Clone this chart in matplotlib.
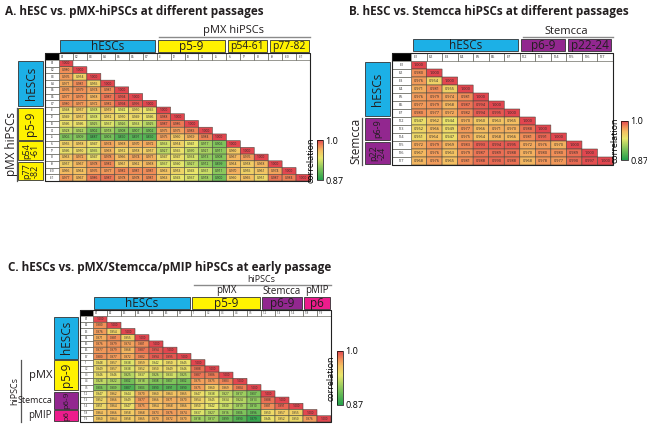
import numpy as np
import matplotlib.pyplot as plt
from matplotlib.colors import LinearSegmentedColormap, Normalize
from matplotlib.patches import Rectangle
from matplotlib.transforms import blended_transform_factory
from matplotlib.cm import ScalarMappable

plt.rcParams['font.family'] = ['Open Sans', 'DejaVu Sans']

# ---------------- data ----------------
esc_names = ['E1', 'E2', 'E3', 'E4', 'E5', 'E6', 'E7']
pmx_early_names = ['I1', 'I2', 'I3', 'I4', 'I5']
pmx_late_names = ['I6', 'I7', 'I8', 'I9', 'I10', 'I11']
st_early_names = ['I12', 'I13', 'I14']
st_late_names = ['I15', 'I16', 'I17']
pmip_names = ['I18', 'I19']

esc_esc = [
    [1.000],
    [0.980, 1.000],
    [0.976, 0.954, 1.000],
    [0.971, 0.981, 0.955, 1.000],
    [0.976, 0.979, 0.974, 0.981, 1.000],
    [0.977, 0.979, 0.968, 0.987, 0.994, 1.000],
    [0.980, 0.977, 0.972, 0.982, 0.994, 0.995, 1.000],
]

pmxE_esc = [
    [0.948, 0.957, 0.938, 0.959, 0.942, 0.950, 0.945],
    [0.949, 0.957, 0.938, 0.952, 0.950, 0.949, 0.946],
    [0.946, 0.946, 0.925, 0.937, 0.926, 0.933, 0.925],
    [0.928, 0.922, 0.902, 0.918, 0.908, 0.907, 0.902],
    [0.906, 0.909, 0.887, 0.903, 0.890, 0.891, 0.890],
]
pmxE_pmxE = [
    [1.000],
    [0.988, 1.000],
    [0.987, 0.986, 1.000],
    [0.975, 0.975, 0.983, 1.000],
    [0.975, 0.960, 0.969, 0.984, 1.000],
]

pmxL_esc = [
    [0.955, 0.958, 0.947, 0.974, 0.968, 0.970, 0.972],
    [0.946, 0.950, 0.935, 0.968, 0.952, 0.958, 0.957],
    [0.963, 0.972, 0.947, 0.978, 0.966, 0.974, 0.971],
    [0.957, 0.967, 0.978, 0.982, 0.961, 0.962, 0.968],
    [0.966, 0.964, 0.976, 0.977, 0.982, 0.981, 0.981],
    [0.977, 0.967, 0.986, 0.987, 0.978, 0.978, 0.981],
]
pmxL_pmxE = [
    [0.933, 0.954, 0.941, 0.917, 0.906],
    [0.927, 0.945, 0.930, 0.921, 0.911],
    [0.947, 0.947, 0.934, 0.913, 0.908],
    [0.937, 0.940, 0.927, 0.912, 0.899],
    [0.963, 0.953, 0.943, 0.931, 0.911],
    [0.963, 0.943, 0.937, 0.918, 0.900],
]
pmxL_pmxL = [
    [1.000],
    [0.960, 1.000],
    [0.967, 0.976, 1.000],
    [0.964, 0.958, 0.968, 1.000],
    [0.970, 0.955, 0.961, 0.974, 1.000],
    [0.960, 0.965, 0.951, 0.987, 0.984, 1.000],
]

stE_esc = [
    [0.947, 0.962, 0.944, 0.970, 0.960, 0.963, 0.965],
    [0.952, 0.966, 0.949, 0.977, 0.966, 0.971, 0.970],
    [0.951, 0.964, 0.947, 0.975, 0.964, 0.968, 0.966],
]
stE_pmxE = [
    [0.947, 0.938, 0.927, 0.917, 0.907],
    [0.954, 0.945, 0.934, 0.924, 0.913],
    [0.950, 0.942, 0.930, 0.919, 0.910],
]
stE_stE = [
    [1.000],
    [0.988, 1.000],
    [0.981, 0.991, 1.000],
]
stL_esc = [
    [0.972, 0.979, 0.969, 0.983, 0.993, 0.994, 0.995],
    [0.967, 0.976, 0.963, 0.979, 0.987, 0.989, 0.988],
    [0.968, 0.976, 0.965, 0.981, 0.988, 0.990, 0.988],
]
stL_stE = [
    [0.972, 0.976, 0.970],
    [0.970, 0.980, 0.980],
    [0.968, 0.978, 0.977],
]
stL_stL = [
    [1.000],
    [0.989, 1.000],
    [0.990, 0.997, 1.000],
]

pmip_esc = [
    [0.964, 0.966, 0.958, 0.968, 0.973, 0.976, 0.974],
    [0.960, 0.964, 0.958, 0.965, 0.970, 0.972, 0.970],
]
pmip_pmxE = [
    [0.937, 0.927, 0.916, 0.906, 0.896],
    [0.918, 0.917, 0.899, 0.890, 0.879],
]
pmip_stE = [
    [0.950, 0.957, 0.955],
    [0.946, 0.952, 0.950],
]
pmip_pmip = [
    [1.000],
    [0.976, 1.000],
]


def join_rows(*parts):
    return [sum((list(p[k]) for p in parts), []) for k in range(len(parts[0]))]


names_a = esc_names + pmx_early_names + pmx_late_names
rows_a = esc_esc + join_rows(pmxE_esc, pmxE_pmxE) + join_rows(pmxL_esc, pmxL_pmxE, pmxL_pmxL)
names_b = esc_names + st_early_names + st_late_names
rows_b = esc_esc + join_rows(stE_esc, stE_stE) + join_rows(stL_esc, stL_stE, stL_stL)
names_c = esc_names + pmx_early_names + st_early_names + pmip_names
rows_c = (esc_esc + join_rows(pmxE_esc, pmxE_pmxE) + join_rows(stE_esc, stE_pmxE, stE_stE)
          + join_rows(pmip_esc, pmip_pmxE, pmip_stE, pmip_pmip))

# ---------------- style ----------------
W, H = 647, 429
blue = '#1cb0e6'
yellow = '#fff200'
purple = '#92278f'
pink = '#ec1c8c'
grid_c = '#4a4a40'
cmap = LinearSegmentedColormap.from_list('corr', [
    (0.0, '#22a04c'), (0.3, '#86c65c'), (0.55, '#e9e76c'),
    (0.73, '#f4c062'), (0.85, '#f18e58'), (1.0, '#e2464f')])
norm = Normalize(0.87, 1.0)

fig = plt.figure(figsize=(W / 100, H / 100), dpi=100)
bg = fig.add_axes([0, 0, 1, 1])
bg.set_xlim(0, W)
bg.set_ylim(H, 0)
bg.axis('off')


def px_axes(x0, y0, x1, y1):
    return fig.add_axes([x0 / W, 1 - y1 / H, (x1 - x0) / W, (y1 - y0) / H])


def heatmap(rect, names, rows, label_w, cell_fs):
    n = len(names)
    M = np.full((n, n), np.nan)
    for i, r in enumerate(rows):
        M[i, :len(r)] = r
    ax = px_axes(*rect)
    edges = np.arange(n + 1) - 0.5
    ax.pcolor(edges, edges, np.ma.masked_invalid(M), cmap=cmap, norm=norm,
              edgecolors=grid_c, linewidth=0.4)
    ax.set_xlim(-0.5, n - 0.5)
    ax.set_ylim(n - 0.5, -0.5)
    ax.axis('off')
    for i in range(n):
        for j in range(i + 1):
            ax.text(j, i, f'{M[i, j]:.3f}', ha='center', va='center',
                    fontsize=cell_fs, color='#2a2a2a')
    for j, nm in enumerate(names):
        ax.add_patch(Rectangle((j - 0.5, -1.5), 1, 1, fc='white', ec=grid_c,
                               lw=0.4, clip_on=False))
        ax.text(j - 0.35, -1, nm, ha='left', va='center', fontsize=cell_fs,
                color='#333', clip_on=False)
    for i, nm in enumerate(names):
        ax.add_patch(Rectangle((-0.5 - label_w, i - 0.5), label_w, 1, fc='white',
                               ec=grid_c, lw=0.4, clip_on=False))
        ax.text(-0.5 - label_w / 2, i, nm, ha='center', va='center',
                fontsize=cell_fs, color='#333', clip_on=False)
    ax.add_patch(Rectangle((-0.5 - label_w, -1.5), label_w, 1, fc='black',
                           clip_on=False))
    ax.add_patch(Rectangle((-0.5 - label_w, -1.5), n + label_w, n + 1, fill=False,
                           ec='#222', lw=0.8, clip_on=False))
    return ax


def col_boxes(ax, groups, y0, y1):
    tr = blended_transform_factory(ax.transData, bg.transData)
    start = 0
    for label, size, color, fs in groups:
        bg.add_patch(Rectangle((start - 0.5 + 0.1, y0), size - 0.2, y1 - y0,
                               transform=tr, fc=color, ec='#333', lw=0.6))
        bg.text(start - 0.5 + size / 2, (y0 + y1) / 2 + 0.5, label, transform=tr,
                ha='center', va='center', fontsize=fs, color='#231f20')
        start += size


def row_boxes(ax, groups, x0, x1):
    tr = blended_transform_factory(bg.transData, ax.transData)
    start = 0
    for label, size, color, fs in groups:
        bg.add_patch(Rectangle((x0, start - 0.5 + 0.12), x1 - x0, size - 0.24,
                               transform=tr, fc=color, ec='#333', lw=0.6))
        bg.text((x0 + x1) / 2 + 0.5, start - 0.5 + size / 2, label, transform=tr,
                ha='center', va='center', fontsize=fs, rotation=90,
                color='#231f20', linespacing=0.9)
        start += size


def col_bracket(ax, label, a, b, y_line, y_text, fs=8):
    tr = blended_transform_factory(ax.transData, bg.transData)
    bg.plot([a - 0.5 + 0.2, b + 0.5], [y_line, y_line], transform=tr,
            color='#8a8a8a', lw=1.0)
    bg.text((a + b) / 2, y_text, label, transform=tr, ha='center', va='center',
            fontsize=fs, color='#231f20')


def row_bracket(ax, label, a, b, x_line, x_text, fs=8):
    tr = blended_transform_factory(bg.transData, ax.transData)
    bg.plot([x_line, x_line], [a - 0.5 + 0.1, b + 0.5], transform=tr,
            color='#555', lw=0.9)
    bg.text(x_text, (a + b) / 2, label, transform=tr, ha='center', va='center',
            fontsize=fs, rotation=90, color='#231f20')


def colorbar(rect):
    cax = px_axes(*rect)
    cb = fig.colorbar(ScalarMappable(norm=norm, cmap=cmap), cax=cax, ticks=[0.87, 1.0])
    cb.set_ticklabels(['0.87', '1.0'])
    cb.outline.set_linewidth(0.5)
    cax.tick_params(length=0, labelsize=6.5, pad=1.5)
    cax.yaxis.set_label_position('left')
    cb.set_label('correlation', fontsize=6.5, labelpad=1)


title_fs = 8.5

# ---------------- panel A ----------------
bg.text(5, 12, 'A. hESC vs. pMX-hiPSCs at different passages', fontsize=title_fs,
        fontweight='bold', va='center', color='#231f20')
ax_a = heatmap((59, 60, 310, 181), names_a, rows_a, 1.0, 2.3)
col_boxes(ax_a, [('hESCs', 7, blue, 8.5), ('p5-9', 5, yellow, 8.5),
                 ('p54-61', 3, yellow, 7.5), ('p77-82', 3, yellow, 7.5)], 40, 52)
col_bracket(ax_a, 'pMX hiPSCs', 7, 17, 37, 31)
row_boxes(ax_a, [('hESCs', 7, blue, 8.5), ('p5-9', 5, yellow, 8.5),
                 ('p54\n-61', 3, yellow, 6.5), ('p77\n-82', 3, yellow, 6.5)], 18, 43)
row_bracket(ax_a, 'pMX hiPSCs', 7, 17, 17, 11, fs=8.5)
colorbar((317, 140, 323, 180))

# ---------------- panel B ----------------
bg.text(489, 12, 'B. hESC vs. Stemcca hiPSCs at different passages', fontsize=title_fs,
        fontweight='bold', va='center', ha='center', color='#231f20')
ax_b = heatmap((411, 61, 613, 165), names_b, rows_b, 1.25, 2.8)
col_boxes(ax_b, [('hESCs', 7, blue, 8.5), ('p6-9', 3, purple, 8.5),
                 ('p22-24', 3, purple, 8.5)], 39, 51)
col_bracket(ax_b, 'Stemcca', 7, 12, 37, 31)
row_boxes(ax_b, [('hESCs', 7, blue, 8.5), ('p6-9', 3, purple, 6.5),
                 ('p22\n-24', 3, purple, 6.5)], 365, 390)
row_bracket(ax_b, 'Stemcca', 7, 12, 362, 356, fs=8.5)
colorbar((621, 121, 628, 160))

# ---------------- panel C ----------------
bg.text(8, 267, 'C. hESCs vs. pMX/Stemcca/pMIP hiPSCs at early passage', fontsize=title_fs,
        fontweight='bold', va='center', color='#231f20')
ax_c = heatmap((93, 316, 331, 422), names_c, rows_c, 0.95, 2.2)
col_boxes(ax_c, [('hESCs', 7, blue, 8.5), ('p5-9', 5, yellow, 8.5),
                 ('p6-9', 3, purple, 8.5), ('p6', 2, pink, 8.5)], 297, 309)
col_bracket(ax_c, 'hiPSCs', 7, 16, 285, 280, fs=6.5)
tr_c = blended_transform_factory(ax_c.transData, bg.transData)
for label, a, b in [('pMX', 7, 11), ('Stemcca', 12, 14), ('pMIP', 15, 16)]:
    bg.text((a + b) / 2, 291, label, transform=tr_c, ha='center', va='center',
            fontsize=7, color='#231f20')
row_boxes(ax_c, [('hESCs', 7, blue, 8.5), ('p5-9', 5, yellow, 8.5),
                 ('p6-9', 3, purple, 6), ('p6', 2, pink, 6)], 54, 78)
row_bracket(ax_c, 'hiPSCs', 7, 16, 21, 15, fs=6.5)
tr_cr = blended_transform_factory(bg.transData, ax_c.transData)
for label, a, b, fs in [('pMX', 7, 11, 8), ('Stemcca', 12, 14, 6.5), ('pMIP', 15, 16, 7)]:
    bg.text(52, (a + b) / 2, label, transform=tr_cr, ha='right', va='center',
            fontsize=fs, color='#231f20')
colorbar((337, 351, 343, 405))

fig.savefig('out.png', dpi=100)
